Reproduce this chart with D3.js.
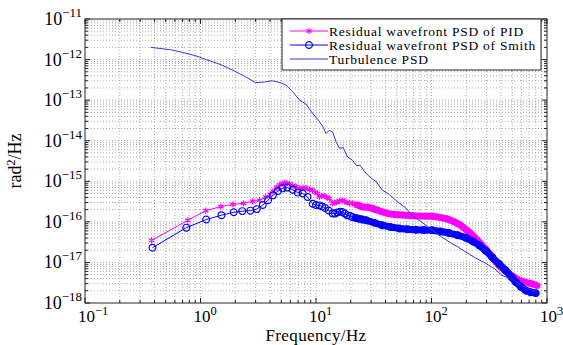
<!DOCTYPE html>
<html>
<head>
<meta charset="utf-8">
<script src="https://cdn.jsdelivr.net/npm/d3@7"></script>
<style>
  body { margin: 0; background: #fff; }
  svg { display: block; }
  text { font-family: "Liberation Serif", "Times New Roman", serif; fill: #000; }
</style>
</head>
<body>
<svg id="chart"></svg>
<script>
/* DATA */
const xTicks = [0.1, 1, 10, 100, 1000];
const yTicks = [1e-18, 1e-17, 1e-16, 1e-15, 1e-14, 1e-13, 1e-12, 1e-11];
const seriesNames = ["Residual wavefront PSD of PID", "Residual wavefront PSD of Smith", "Turbulence PSD"];

const pidFreq = [0.377, 0.776, 1.11, 1.5, 1.91, 2.36, 2.83, 3.25, 3.66, 4.0, 4.24, 4.55, 4.84, 5.1, 5.35, 5.6, 5.9, 6.3, 6.75, 7.2, 7.7, 8.2, 8.8, 9.3, 9.8, 10.3, 10.7, 11.2, 11.8, 12.4, 13.1, 13.9, 14.5, 15.2, 16.0, 16.9, 17.7, 18.5, 19.5, 20.7, 21.7, 22.8, 24, 25.2, 27.8, 30.8, 34, 37.6, 41.5, 45.8, 52, 60.5, 68, 78.3, 90, 101, 116, 134, 152, 174, 192, 212, 235, 259, 287, 316, 350, 385, 425, 470, 520, 573, 635, 699, 760, 820];
const pidPsd = [3.5e-17, 1.09e-16, 1.89e-16, 2.37e-16, 2.7e-16, 2.86e-16, 3.2e-16, 3.4e-16, 4.1e-16, 4.8e-16, 5.66e-16, 7.0e-16, 8.2e-16, 8.8e-16, 9.1e-16, 9.0e-16, 8.7e-16, 7.9e-16, 7.3e-16, 6.6e-16, 6.9e-16, 6.8e-16, 6.3e-16, 6.0e-16, 5.4e-16, 5.0e-16, 4.1e-16, 4.3e-16, 4.4e-16, 4.0e-16, 3.74e-16, 2.86e-16, 2.95e-16, 3.1e-16, 3.3e-16, 3.4e-16, 3.2e-16, 3.0e-16, 2.9e-16, 2.86e-16, 2.7e-16, 2.6e-16, 2.45e-16, 2.32e-16, 2.3e-16, 2.15e-16, 1.95e-16, 1.75e-16, 1.62e-16, 1.53e-16, 1.5e-16, 1.45e-16, 1.42e-16, 1.39e-16, 1.38e-16, 1.37e-16, 1.3e-16, 1.2e-16, 1.05e-16, 8.7e-17, 7.0e-17, 5.6e-17, 4.2e-17, 3.17e-17, 2.3e-17, 1.67e-17, 1.15e-17, 8.4e-18, 6.6e-18, 5.35e-18, 4.3e-18, 3.6e-18, 3.3e-18, 3.1e-18, 2.9e-18, 2.7e-18];

const smithFreq = [0.384, 0.754, 1.12, 1.52, 1.94, 2.3, 2.7, 3.07, 3.46, 3.84, 4.24, 4.68, 5.14, 5.65, 6.28, 6.95, 7.67, 8.45, 9.37, 10.0, 10.7, 11.3, 12, 12.9, 13.9, 14.6, 15.3, 16.1, 16.9, 17.8, 18.7, 19.7, 20.7, 22, 23.5, 25.2, 27.2, 32, 37.6, 44, 52.6, 62, 73.4, 86, 101, 120, 142, 168, 198, 228, 259, 295, 335, 385, 440, 490, 537, 595, 655, 720, 798];
const smithPsd = [2.3e-17, 7.2e-17, 1.14e-16, 1.46e-16, 1.72e-16, 1.84e-16, 1.89e-16, 2.06e-16, 2.6e-16, 3.4e-16, 4.5e-16, 5.75e-16, 6.7e-16, 7.0e-16, 6.2e-16, 5.25e-16, 5.0e-16, 4.1e-16, 2.8e-16, 2.6e-16, 2.55e-16, 2.4e-16, 2.2e-16, 1.9e-16, 1.62e-16, 1.6e-16, 1.7e-16, 1.78e-16, 1.75e-16, 1.6e-16, 1.45e-16, 1.4e-16, 1.31e-16, 1.25e-16, 1.2e-16, 1.15e-16, 1.09e-16, 9.5e-17, 8.2e-17, 7.5e-17, 6.9e-17, 6.6e-17, 6.4e-17, 6.3e-17, 6.2e-17, 5.8e-17, 5.3e-17, 4.7e-17, 4.07e-17, 3.3e-17, 2.63e-17, 1.95e-17, 1.35e-17, 9.2e-18, 6.3e-18, 4.4e-18, 3.27e-18, 2.5e-18, 2.04e-18, 1.85e-18, 1.75e-18];

const turbFreq = [0.37, 0.55, 0.70, 0.9, 1.12, 1.5, 1.9, 2.4, 3.0, 3.6, 4.2, 4.9, 5.5, 6.3, 7.2, 8.2, 9.3, 10.5, 11.5, 12.2, 13.0, 13.9, 15.0, 16.0, 17.2, 18.7, 20.7, 22.5, 24.0, 27.2, 30, 33, 37.6, 42, 47, 52.6, 60, 68, 80, 101, 120, 142, 170, 198, 240, 295, 350, 408, 500, 600, 700, 800];
const turbPsd = [2.0e-12, 1.75e-12, 1.5e-12, 1.25e-12, 1.0e-12, 7.5e-13, 5.5e-13, 3.9e-13, 2.7e-13, 2.8e-13, 3.0e-13, 2.7e-13, 2.35e-13, 1.6e-13, 1.0e-13, 8.0e-14, 4.8e-14, 3.2e-14, 2.2e-14, 1.5e-14, 1.8e-14, 1.65e-14, 9e-15, 6.5e-15, 6.8e-15, 4.0e-15, 3.3e-15, 2.4e-15, 2.5e-15, 1.55e-15, 1.2e-15, 1.0e-15, 6.0e-16, 5.0e-16, 3.8e-16, 2.9e-16, 2.2e-16, 1.45e-16, 1.05e-16, 6.2e-17, 4.4e-17, 3.2e-17, 2.4e-17, 1.8e-17, 1.3e-17, 9.5e-18, 7e-18, 4.8e-18, 3.8e-18, 2.8e-18, 2.2e-18, 1.9e-18];

/* LAYOUT */
const width = 563, height = 345;
const margin = { left: 85, right: 16, top: 19, bottom: 42 };
const pidColor = "#ff00ff", smithColor = "#0000ff", turbColor = "#3434d8";
const bandFrom = 22; // above this the markers merge into a solid band

const svg = d3.select("#chart").attr("width", width).attr("height", height);

/* SCALES */
const xScale = d3.scaleLog().domain([0.1, 1000]).range([margin.left, width - margin.right]);
const yScale = d3.scaleLog().domain([1e-18, 1e-11]).range([height - margin.bottom, margin.top]);
const x0 = xScale.range()[0], x1 = xScale.range()[1];
const y0 = yScale.range()[0], y1 = yScale.range()[1];

// minor positions between decades
const xMinor = [], yMinor = [];
for (let e = -1; e < 3; e++) for (let m = 2; m <= 9; m++) xMinor.push(m * Math.pow(10, e));
for (let e = -18; e < -11; e++) for (let m = 2; m <= 9; m++) yMinor.push(m * Math.pow(10, e));

/* GRID */
const grid = svg.append("g").attr("stroke", "#8a8a8a").attr("stroke-width", 0.7).attr("stroke-dasharray", "1,2");
grid.selectAll(".gx").data(xMinor.concat(xTicks.slice(1, -1))).join("line")
  .attr("x1", d => xScale(d)).attr("x2", d => xScale(d)).attr("y1", y0).attr("y2", y1);
grid.selectAll(".gy").data(yMinor.concat(yTicks.slice(1, -1))).join("line")
  .attr("class", "gy")
  .attr("y1", d => yScale(d)).attr("y2", d => yScale(d)).attr("x1", x0).attr("x2", x1);

/* SERIES */
const pid = pidFreq.map((f, i) => ({ f, v: pidPsd[i] }));
const smith = smithFreq.map((f, i) => ({ f, v: smithPsd[i] }));
const turb = turbFreq.map((f, i) => ({ f, v: turbPsd[i] }));

const line = d3.line().x(d => xScale(d.f)).y(d => yScale(d.v));
const plot = svg.append("g");

function drawResidual(data, color, marker) {
  plot.append("path").datum(data.filter(d => d.f >= bandFrom))
    .attr("d", line).attr("fill", "none").attr("stroke", color)
    .attr("stroke-width", 7).attr("stroke-linejoin", "round").attr("stroke-linecap", "round");
  plot.append("path").datum(data)
    .attr("d", line).attr("fill", "none").attr("stroke", color).attr("stroke-width", 1);
  plot.append("g").selectAll("path").data(data).join("path")
    .attr("transform", d => `translate(${xScale(d.f)},${yScale(d.v)})`)
    .attr("d", marker).attr("fill", "none").attr("stroke", color).attr("stroke-width", 1.2);
}
const starMarker = d3.symbol(d3.symbolAsterisk, 26)();
const circleMarker = d3.symbol(d3.symbolCircle, 36)();
drawResidual(pid, pidColor, starMarker);
drawResidual(smith, smithColor, circleMarker);

plot.append("path").datum(turb)
  .attr("d", line).attr("fill", "none").attr("stroke", turbColor).attr("stroke-width", 1);

/* AXES BOX + TICKS */
const axes = svg.append("g").attr("stroke", "#222").attr("stroke-width", 1);
axes.append("rect").attr("x", x0).attr("y", y1).attr("width", x1 - x0).attr("height", y0 - y1).attr("fill", "none");
xTicks.concat(xMinor).forEach(d => {
  const len = xTicks.includes(d) ? 5 : 3;
  axes.append("line").attr("x1", xScale(d)).attr("x2", xScale(d)).attr("y1", y0).attr("y2", y0 - len);
  axes.append("line").attr("x1", xScale(d)).attr("x2", xScale(d)).attr("y1", y1).attr("y2", y1 + len);
});
yTicks.concat(yMinor).forEach(d => {
  const len = yTicks.includes(d) ? 5 : 3;
  axes.append("line").attr("y1", yScale(d)).attr("y2", yScale(d)).attr("x1", x0).attr("x2", x0 + len);
  axes.append("line").attr("y1", yScale(d)).attr("y2", yScale(d)).attr("x1", x1).attr("x2", x1 - len);
});

/* TICK LABELS */
const expOf = d => Math.round(Math.log10(d));
const fmtExp = e => (e < 0 ? "\u2212" + (-e) : String(e));
xTicks.forEach(d => {
  const t = svg.append("text").attr("x", xScale(d) - 7).attr("y", 322).attr("font-size", 17);
  t.append("tspan").text("10");
  t.append("tspan").attr("dy", -7).attr("font-size", 12.5).text(fmtExp(expOf(d)));
});
yTicks.forEach(d => {
  const t = svg.append("text").attr("x", 82).attr("y", yScale(d) + 6)
    .attr("font-size", 18).attr("text-anchor", "end");
  t.append("tspan").text("10");
  t.append("tspan").attr("dy", -8).attr("font-size", 13).text(fmtExp(expOf(d)));
});

/* AXIS TITLES */
svg.append("text").attr("x", (x0 + x1) / 2).attr("y", 341).attr("text-anchor", "middle")
  .attr("font-size", 17).attr("letter-spacing", 0.4).text("Frequency/Hz");
const yt = svg.append("text").attr("transform", `translate(21,${(y0 + y1) / 2}) rotate(-90)`)
  .attr("text-anchor", "middle").attr("font-size", 18);
yt.append("tspan").text("rad");
yt.append("tspan").attr("dy", -6).attr("font-size", 12).text("2");
yt.append("tspan").attr("dy", 6).text("/Hz");

/* LEGEND */
const lg = svg.append("g").attr("transform", "translate(282,19)");
lg.append("rect").attr("width", 259).attr("height", 51).attr("fill", "#fff").attr("stroke", "#222");
const legendItems = [
  { name: seriesNames[0], color: pidColor, marker: starMarker },
  { name: seriesNames[1], color: smithColor, marker: circleMarker },
  { name: seriesNames[2], color: turbColor, marker: null }
];
legendItems.forEach((it, i) => {
  const cy = 12 + i * 14;
  lg.append("line").attr("x1", 8).attr("x2", 46).attr("y1", cy).attr("y2", cy)
    .attr("stroke", it.color).attr("stroke-width", 1);
  if (it.marker) lg.append("path").attr("transform", `translate(27,${cy})`).attr("d", it.marker)
    .attr("fill", "none").attr("stroke", it.color).attr("stroke-width", 1.2);
  lg.append("text").attr("x", 47).attr("y", cy + 4.5).attr("font-size", 13.5)
    .attr("letter-spacing", 0.75).text(it.name);
});
</script>
</body>
</html>
